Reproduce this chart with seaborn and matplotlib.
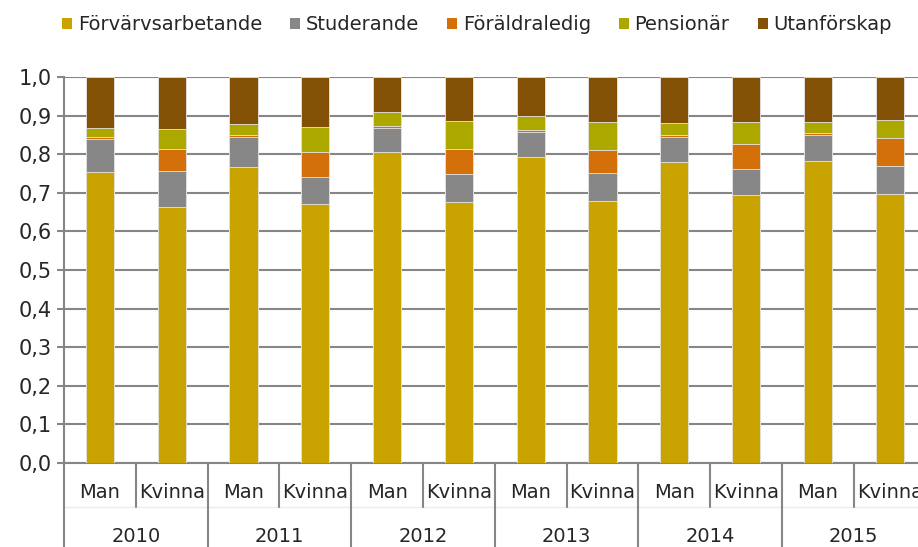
import matplotlib
matplotlib.use('Agg')
import matplotlib.pyplot as plt
import matplotlib.transforms as mtransforms
from matplotlib.patches import Patch
import pandas as pd
import seaborn as sns

# Data (shares per group, Man / Kvinna per year)
years = ['2010', '2011', '2012', '2013', '2014', '2015']
genders = ['Man', 'Kvinna']
series = ['Förvärvsarbetande', 'Studerande', 'Föräldraledig', 'Pensionär', 'Utanförskap']
colors = ['#C9A400', '#878787', '#D4700A', '#ADA800', '#835106']

forvarvsarbetande = [0.753, 0.664, 0.766, 0.671, 0.806, 0.677, 0.792, 0.679, 0.781, 0.695, 0.782, 0.696]
studerande = [0.087, 0.092, 0.079, 0.069, 0.063, 0.072, 0.066, 0.072, 0.064, 0.067, 0.069, 0.073]
foraldraledig = [0.005, 0.057, 0.005, 0.065, 0.004, 0.065, 0.004, 0.059, 0.005, 0.065, 0.004, 0.073]
pensionar = [0.023, 0.053, 0.027, 0.065, 0.036, 0.072, 0.036, 0.074, 0.032, 0.056, 0.028, 0.047]
utanforskap = [0.132, 0.134, 0.123, 0.130, 0.091, 0.114, 0.102, 0.116, 0.118, 0.117, 0.117, 0.111]

values = [forvarvsarbetande, studerande, foraldraledig, pensionar, utanforskap]

categories = [f'{y} {g}' for y in years for g in genders]
df = pd.DataFrame({'kategori': categories})
for name, vals in zip(series, values):
    df[name] = vals

# cumulative sums so stacked bars can be drawn top layer first
cum_cols = []
running = 0
for name in series:
    running = running + df[name]
    col = 'cum_' + name
    df[col] = running
    cum_cols.append(col)

sns.set_style('white')
plt.rcParams['font.family'] = ['DejaVu Sans']
fs = 14

fig = plt.figure(figsize=(9.18, 5.47), dpi=100)
W, H = 918, 547
ax = fig.add_axes([64 / W, 84 / H, 861.6 / W, 386 / H])

for col, color in reversed(list(zip(cum_cols, colors))):
    sns.barplot(data=df, x='kategori', y=col, order=categories, color=color,
                saturation=1, width=0.39, errorbar=None, ax=ax,
                edgecolor='#e6e6e6', linewidth=0.6, zorder=3)

ax.set_xlim(-0.5, len(categories) - 0.5)
ax.set_ylim(0, 1.0)
ax.set_yticks([i / 10 for i in range(11)])
ax.set_yticklabels([f'{i / 10:.1f}'.replace('.', ',') for i in range(11)], fontsize=fs + 1)
ax.set_xticks([])
ax.set_xlabel('')
ax.set_ylabel('')
ax.yaxis.grid(True, color='#868686', linewidth=1.5)
ax.set_axisbelow(True)
ax.tick_params(axis='y', length=5, width=1.5, color='#868686', pad=4, left=True)

for side in ['top', 'right']:
    ax.spines[side].set_visible(False)
for side in ['left', 'bottom']:
    ax.spines[side].set_color('#868686')
    ax.spines[side].set_linewidth(1.5)

# multi level category axis
trans = mtransforms.blended_transform_factory(ax.transData, ax.transAxes)
short = -44 / 386
long = -84 / 386
ax.plot([-0.5, -0.5], [0, long], transform=trans, color='#868686', lw=1.5, clip_on=False)
for i, y in enumerate(years):
    ax.plot([2 * i + 0.5, 2 * i + 0.5], [0, short], transform=trans,
            color='#868686', lw=1.5, clip_on=False)
    ax.plot([2 * i + 1.5, 2 * i + 1.5], [0, long], transform=trans,
            color='#868686', lw=1.5, clip_on=False)
    ax.text(2 * i + 0.5, -74 / 386, y, transform=trans, ha='center', va='center', fontsize=fs)
for j, cat in enumerate(categories):
    ax.text(j, -30 / 386, cat.split(' ')[1], transform=trans, ha='center', va='center', fontsize=fs)
ax.plot([-0.5, len(categories) - 0.5], [short, short], transform=trans,
        color='#ececec', lw=1, clip_on=False, zorder=0)

handles = [Patch(facecolor=c, edgecolor='none', label=s) for s, c in zip(series, colors)]
fig.legend(handles=handles, loc='center', bbox_to_anchor=(477 / W, 1 - 25 / H), ncol=5,
           frameon=False, fontsize=fs, handlelength=0.5, handleheight=0.5,
           handletextpad=0.3, columnspacing=1.45, borderaxespad=0)

fig.savefig('out.png', dpi=100)
